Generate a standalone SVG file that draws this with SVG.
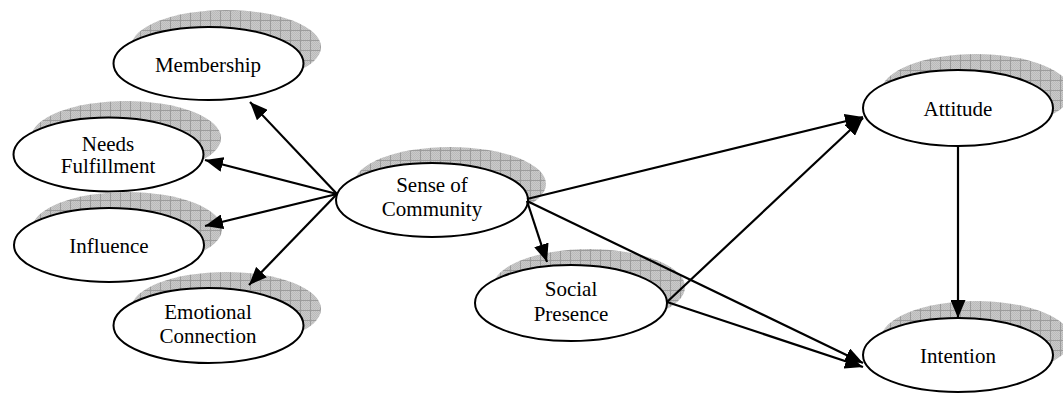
<svg xmlns="http://www.w3.org/2000/svg" width="1063" height="393" viewBox="0 0 1063 393">
<defs>
<pattern id="dots" width="2" height="2" patternUnits="userSpaceOnUse">
<rect width="2" height="2" fill="#cacaca"/>
<rect width="1" height="1" fill="#bababa"/>
<rect x="1" y="1" width="1" height="1" fill="#bababa"/>
</pattern>
<pattern id="grid" width="10" height="10" patternUnits="userSpaceOnUse">
<rect width="10" height="10" fill="url(#dots)"/>
<path d="M0 0.5H10M0.5 0V10" stroke="#9c9c9c" stroke-width="1" fill="none"/>
</pattern>
<marker id="arr" markerWidth="20" markerHeight="15" refX="18" refY="7.5" orient="auto" markerUnits="userSpaceOnUse">
<path d="M0 0L18 7.5L0 15Z" fill="#000"/>
</marker>
</defs>
<style>
.sh{fill:url(#grid);stroke:none}
.nd{fill:#fff;stroke:#000;stroke-width:2}
.tx{font-family:"Liberation Serif","Times New Roman",serif;font-size:21px;fill:#000;text-anchor:middle}
.cn{stroke:#000;stroke-width:2.2;fill:none;marker-end:url(#arr)}
</style>
<rect width="1063" height="393" fill="#fff"/>
<g id="membership">
<ellipse class="sh" cx="226" cy="47" rx="95" ry="37"/>
<ellipse class="nd" cx="208.5" cy="63.5" rx="95" ry="36.5"/>
<text class="tx" x="208" y="72">Membership</text>
</g>
<g id="needs">
<ellipse class="sh" cx="126" cy="138" rx="95" ry="37"/>
<ellipse class="nd" cx="108.5" cy="154.5" rx="95" ry="37"/>
<text class="tx" x="108" y="151">Needs</text>
<text class="tx" x="108" y="173">Fulfillment</text>
</g>
<g id="influence">
<ellipse class="sh" cx="127" cy="229" rx="95" ry="37"/>
<ellipse class="nd" cx="109" cy="245" rx="95" ry="37"/>
<text class="tx" x="109" y="253">Influence</text>
</g>
<g id="emotional">
<ellipse class="sh" cx="226" cy="309" rx="95" ry="37"/>
<ellipse class="nd" cx="208.5" cy="325.5" rx="95" ry="37.5"/>
<text class="tx" x="208" y="319">Emotional</text>
<text class="tx" x="208" y="343">Connection</text>
</g>
<g id="community">
<ellipse class="sh" cx="450" cy="184" rx="96" ry="37"/>
<ellipse class="nd" cx="432" cy="200" rx="96" ry="37"/>
<text class="tx" x="432" y="192">Sense of</text>
<text class="tx" x="432" y="216">Community</text>
</g>
<g id="social">
<ellipse class="sh" cx="589" cy="287" rx="96" ry="38"/>
<ellipse class="nd" cx="571" cy="303" rx="96" ry="38"/>
<text class="tx" x="571" y="296">Social</text>
<text class="tx" x="571" y="321">Presence</text>
</g>
<g id="attitude">
<ellipse class="sh" cx="976" cy="92" rx="95" ry="38"/>
<ellipse class="nd" cx="958" cy="108" rx="95" ry="38"/>
<text class="tx" x="958" y="116">Attitude</text>
</g>
<g id="intention">
<ellipse class="sh" cx="976" cy="339" rx="95" ry="38"/>
<ellipse class="nd" cx="958" cy="355" rx="95" ry="37"/>
<text class="tx" x="958" y="363">Intention</text>
</g>
<g id="connectors">
<line class="cn" x1="337" y1="194" x2="250" y2="102"/>
<line class="cn" x1="337" y1="194" x2="205" y2="160"/>
<line class="cn" x1="337" y1="194" x2="205" y2="226"/>
<line class="cn" x1="337" y1="194" x2="249" y2="285"/>
<line class="cn" x1="527" y1="199" x2="863" y2="117"/>
<line class="cn" x1="527" y1="201" x2="547" y2="262"/>
<line class="cn" x1="527" y1="201" x2="863" y2="363"/>
<line class="cn" x1="667" y1="302" x2="863" y2="118"/>
<line class="cn" x1="667" y1="302" x2="863" y2="367"/>
<line class="cn" x1="958" y1="146" x2="958" y2="318"/>
</g>
</svg>
